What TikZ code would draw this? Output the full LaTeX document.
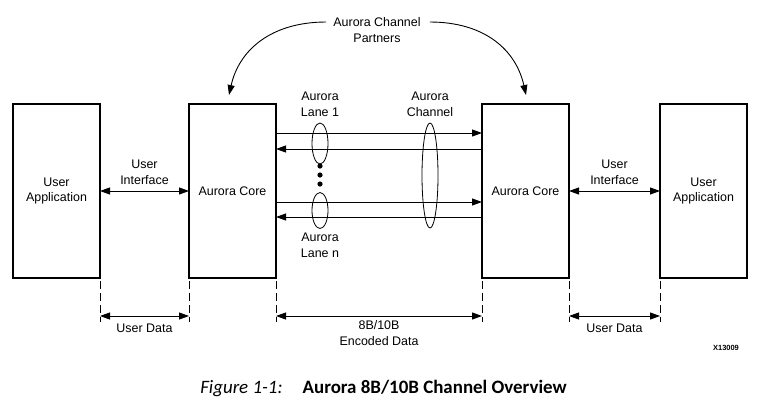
\documentclass[tikz,border=0pt]{standalone}
\usepackage{fontspec}
\setmainfont{Liberation Sans}
\newfontfamily\capfont{Carlito}
\usetikzlibrary{shapes.geometric, arrows.meta, positioning}

\begin{document}
\begin{tikzpicture}[x=1bp, y=1bp, font=\fontsize{12.5}{15.5}\selectfont]
	\tikzstyle{blk}=[
	rectangle, draw, line width=1.2bp,
	minimum width=87bp, minimum height=174bp,
	inner sep=0pt, outer sep=0pt, align=center
	]
	\tikzstyle{lbl}=[align=center, inner sep=1bp]
	\tikzstyle{lane}=[ellipse, draw, line width=0.8bp, minimum width=16bp, inner sep=0pt]
	\tikzstyle{link}=[line width=0.9bp, -{Triangle[length=10bp,width=7bp]}]
	\tikzstyle{dim}=[line width=0.9bp, {Triangle[length=10bp,width=7bp]}-{Triangle[length=10bp,width=7bp]}]
	\tikzstyle{guide}=[line width=0.9bp, dash pattern=on 8bp off 4bp]
	
	\useasboundingbox (0,0) rectangle (764,-412);
	
	\node[blk] (lapp) at (56.5,-191) {User\\Application};
	\node[blk, right=89bp of lapp] (lcore) {Aurora Core};
	\node[blk, right=206bp of lcore] (rcore) {Aurora Core};
	\node[blk, right=91bp of rcore] (rapp) {User\\Application};
	
	\draw[dim] (lapp.east) -- node[lbl, above=5bp] {User\\Interface} (lcore.west);
	\draw[dim] (rcore.east) -- node[lbl, above=5bp] {User\\Interface} (rapp.west);
	
	\draw[link] ([yshift=-29bp]lcore.north east) -- ([yshift=-29bp]rcore.north west);
	\draw[link] ([yshift=-45bp]rcore.north west) -- ([yshift=-45bp]lcore.north east);
	\draw[link] ([yshift=-98bp]lcore.north east) -- ([yshift=-98bp]rcore.north west);
	\draw[link] ([yshift=-113bp]rcore.north west) -- ([yshift=-113bp]lcore.north east);
	
	\node[lane, minimum height=41bp] (lane1) at (320,-143.5) {};
	\node[lane, minimum height=36bp] (lanen) at (320,-210.5) {};
	\node[lane, minimum height=105bp] (chan) at (430,-175.5) {};
	\fill (320,-166) circle (2.6bp);
	\fill (320,-175) circle (2.6bp);
	\fill (320,-184) circle (2.6bp);
	
	\node[lbl, above=5bp of lane1] (lane1lbl) {Aurora\\Lane 1};
	\node[lbl, above=5bp of chan] (chanlbl) {Aurora\\Channel};
	\node[lbl, below=3bp of lanen] (lanenlbl) {Aurora\\Lane n};
	
	\node[lbl] (partners) at (377,-30) {Aurora Channel\\Partners};
	\draw[link] ([xshift=-6bp,yshift=8bp]partners.west) .. controls +(-55,0) and +(10,45) .. ([xshift=-3.5bp,yshift=9bp]lcore.north);
	\draw[link] ([xshift=8bp,yshift=8bp]partners.east) .. controls +(55,0) and +(-10,45) .. ([xshift=0.5bp,yshift=9bp]rcore.north);
	
	\foreach \a in {lapp.south east, lcore.south west, lcore.south east, rcore.south west, rcore.south east, rapp.south west}
	\draw[guide] ([yshift=-3bp]\a) -- ++(0,-41);
	
	\draw[dim] ([yshift=-38bp]lapp.south east) -- node[lbl, below=6bp] {User Data} ([yshift=-38bp]lcore.south west);
	\draw[dim] ([yshift=-38bp]lcore.south east) -- node[lbl, below=3.5bp] {8B/10B\\Encoded Data} ([yshift=-38bp]rcore.south west);
	\draw[dim] ([yshift=-38bp]rcore.south east) -- node[lbl, below=6bp] {User Data} ([yshift=-38bp]rapp.south west);
	
	\node[font=\bfseries\fontsize{7.5}{9}\selectfont] (fignum) at (726,-348) {X13009};
	\node[font=\capfont\fontsize{19}{23}\selectfont] (caption) at (383.5,-388) {\textit{Figure 1-1:}\hspace{20bp}\textbf{Aurora 8B/10B Channel Overview}};
\end{tikzpicture}
\end{document}
